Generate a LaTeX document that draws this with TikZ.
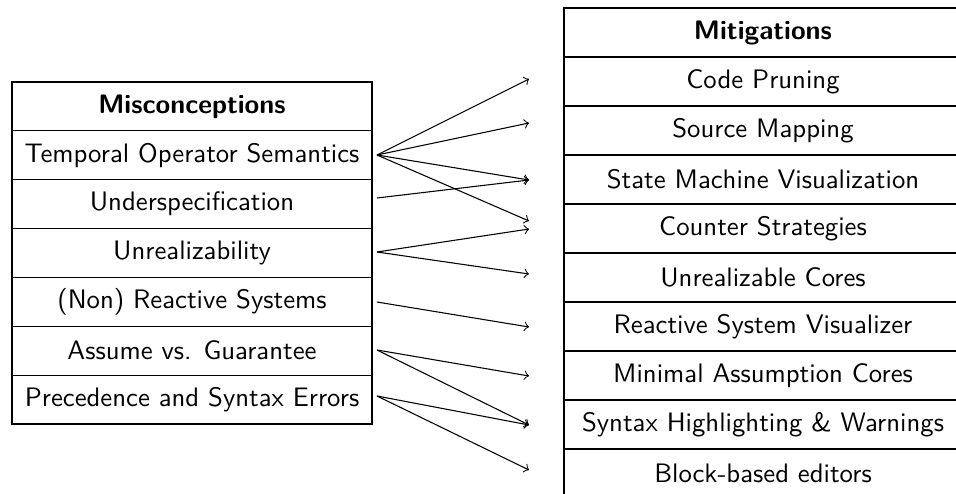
\documentclass[tikz,border=0pt]{standalone}
\begin{document}
\begin{tikzpicture}[x=0.374pt,y=-0.374pt,
  lcell/.style={draw, line width=0.4pt, minimum width=134.64pt, minimum height=18.27pt, inner sep=0pt, font=\sffamily},
  rcell/.style={draw, line width=0.4pt, minimum width=148.85pt, minimum height=18.33pt, inner sep=0pt, font=\sffamily},
  hdr/.style={font=\sffamily\bfseries},
  conn/.style={->, line width=0.4pt}]
\useasboundingbox (0,0) rectangle (956,493);
% left table
\node[lcell,hdr] (lh) at (192,106.4) {Misconceptions};
\node[lcell] (l1) at (192,155.3) {Temporal Operator Semantics};
\node[lcell] (l2) at (192,204.1) {Underspecification};
\node[lcell] (l3) at (192,253.0) {Unrealizability};
\node[lcell] (l4) at (192,301.9) {(Non) Reactive Systems};
\node[lcell] (l5) at (192,350.7) {Assume vs. Guarantee};
\node[lcell] (l6) at (192,399.6) {Precedence and Syntax Errors};
% right table
\node[rcell,hdr] (rh) at (763,32.5) {Mitigations};
\node[rcell] (r1) at (763,81.5) {Code Pruning};
\node[rcell] (r2) at (763,130.5) {Source Mapping};
\node[rcell] (r3) at (763,179.5) {State Machine Visualization};
\node[rcell] (r4) at (763,228.5) {Counter Strategies};
\node[rcell] (r5) at (763,277.5) {Unrealizable Cores};
\node[rcell] (r6) at (763,326.5) {Reactive System Visualizer};
\node[rcell] (r7) at (763,375.5) {Minimal Assumption Cores};
\node[rcell] (r8) at (763,424.5) {Syntax Highlighting \& Warnings};
\node[rcell] (r9) at (763,473.5) {Block-based editors};
% connector end points
\coordinate (s1) at (377,155);
\coordinate (s2) at (377,198);
\coordinate (s3) at (377,252);
\coordinate (s4) at (377,302);
\coordinate (s5) at (377,350);
\coordinate (s6) at (377,396);
\coordinate (e1) at (529,79);
\coordinate (e2) at (529,123);
\coordinate (e3) at (529,180);
\coordinate (e4a) at (529,221);
\coordinate (e4b) at (529,229);
\coordinate (e5) at (529,274);
\coordinate (e6) at (529,327);
\coordinate (e7) at (529,376);
\coordinate (e8) at (529,425);
\coordinate (e9) at (529,470);
% connectors
\draw[conn] (s1) -- (e1);
\draw[conn] (s1) -- (e2);
\draw[conn] (s1) -- (e3);
\draw[conn] (s1) -- (e4a);
\draw[conn] (s2) -- (e3);
\draw[conn] (s3) -- (e4b);
\draw[conn] (s3) -- (e5);
\draw[conn] (s4) -- (e6);
\draw[conn] (s5) -- (e7);
\draw[conn] (s5) -- (e8);
\draw[conn] (s6) -- (e8);
\draw[conn] (s6) -- (e9);
\end{tikzpicture}
\end{document}
